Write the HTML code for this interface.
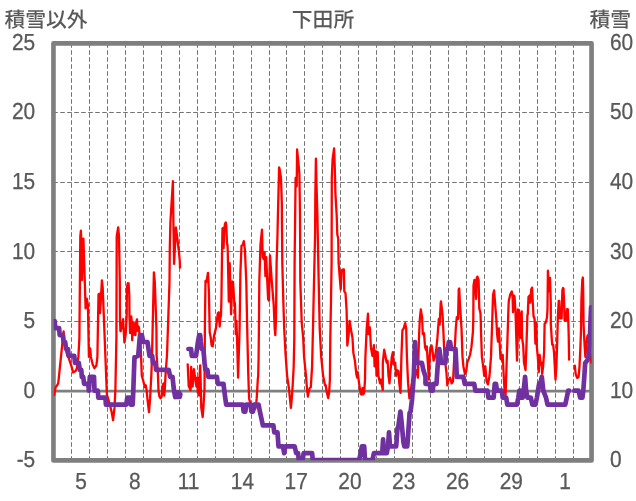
<!DOCTYPE html>
<html lang="ja"><head><meta charset="utf-8"><title>下田所</title>
<style>html,body{margin:0;padding:0;background:#fff}svg{display:block}</style></head>
<body>
<svg width="636" height="501" viewBox="0 0 636 501">
<rect width="636" height="501" fill="#fff"/>
<g stroke="#6c6c6c" stroke-width="0.95" stroke-dasharray="4.6 2.4" fill="none"><line x1="71.5" y1="43.2" x2="71.5" y2="458.0"/><line x1="89.5" y1="43.2" x2="89.5" y2="458.0"/><line x1="107.5" y1="43.2" x2="107.5" y2="458.0"/><line x1="125.5" y1="43.2" x2="125.5" y2="458.0"/><line x1="143.5" y1="43.2" x2="143.5" y2="458.0"/><line x1="161.5" y1="43.2" x2="161.5" y2="458.0"/><line x1="179.5" y1="43.2" x2="179.5" y2="458.0"/><line x1="197.5" y1="43.2" x2="197.5" y2="458.0"/><line x1="215.5" y1="43.2" x2="215.5" y2="458.0"/><line x1="233.5" y1="43.2" x2="233.5" y2="458.0"/><line x1="251.5" y1="43.2" x2="251.5" y2="458.0"/><line x1="269.5" y1="43.2" x2="269.5" y2="458.0"/><line x1="286.5" y1="43.2" x2="286.5" y2="458.0"/><line x1="304.5" y1="43.2" x2="304.5" y2="458.0"/><line x1="322.5" y1="43.2" x2="322.5" y2="458.0"/><line x1="340.5" y1="43.2" x2="340.5" y2="458.0"/><line x1="358.5" y1="43.2" x2="358.5" y2="458.0"/><line x1="376.5" y1="43.2" x2="376.5" y2="458.0"/><line x1="394.5" y1="43.2" x2="394.5" y2="458.0"/><line x1="412.5" y1="43.2" x2="412.5" y2="458.0"/><line x1="430.5" y1="43.2" x2="430.5" y2="458.0"/><line x1="448.5" y1="43.2" x2="448.5" y2="458.0"/><line x1="466.5" y1="43.2" x2="466.5" y2="458.0"/><line x1="484.5" y1="43.2" x2="484.5" y2="458.0"/><line x1="501.5" y1="43.2" x2="501.5" y2="458.0"/><line x1="519.5" y1="43.2" x2="519.5" y2="458.0"/><line x1="537.5" y1="43.2" x2="537.5" y2="458.0"/><line x1="555.5" y1="43.2" x2="555.5" y2="458.0"/><line x1="573.5" y1="43.2" x2="573.5" y2="458.0"/><line x1="53.2" y1="112.5" x2="589.2" y2="112.5"/><line x1="53.2" y1="182.5" x2="589.2" y2="182.5"/><line x1="53.2" y1="251.5" x2="589.2" y2="251.5"/><line x1="53.2" y1="321.5" x2="589.2" y2="321.5"/></g>
<line x1="53.5" y1="391.2" x2="591.5" y2="391.2" stroke="#7f7f7f" stroke-width="2.8"/>
<rect x="53.45" y="43.4" width="538.1" height="417" fill="none" stroke="#7f7f7f" stroke-width="4.65" stroke-linejoin="round"/>
<clipPath id="c"><rect x="53.7" y="43.2" width="537.9" height="417.0"/></clipPath><g clip-path="url(#c)">
<polyline points="54.2,395.0 55.7,387.1 57.2,385.2 58.3,382.9 63.6,331.3 64.8,345.5 67.1,355.0 69.0,358.8 71.2,365.4 73.1,372.4 75.6,371.1 76.9,368.2 78.4,356.9 79.4,337.9 80.3,236.4 80.9,230.7 81.5,244.0 82.0,280.0 82.8,240.2 83.4,238.6 84.5,272.4 85.6,308.4 86.8,298.6 87.9,304.6 88.9,356.9 90.2,348.3 90.9,356.9 92.7,364.5 94.5,368.2 96.4,365.4 97.4,356.9 98.5,294.2 99.7,293.6 100.0,313.2 100.8,300.8 101.9,280.4 102.7,287.6 106.9,394.6 109.7,404.1 111.6,411.7 113.1,420.2 114.5,407.9 115.4,389.0 116.4,337.9 116.7,236.4 118.2,227.3 119.0,236.4 119.8,281.9 119.9,305.4 120.0,318.2 120.4,331.0 120.7,331.3 123.1,319.2 124.4,342.5 125.7,334.2 126.7,315.0 126.9,287.7 127.8,283.2 128.6,283.4 129.3,295.3 129.5,317.5 130.1,333.2 131.3,316.5 131.9,323.3 132.2,340.3 132.8,322.4 133.7,334.6 134.6,323.3 135.4,335.1 136.2,322.4 137.0,319.3 137.6,330.8 138.2,326.1 139.0,327.5 139.5,334.6 140.3,336.5 141.8,375.7 142.9,379.5 144.8,387.1 145.7,385.2 146.7,390.9 147.6,400.3 149.0,412.1 150.1,398.4 151.4,373.8 152.0,356.9 153.9,272.4 154.8,281.9 156.4,328.0 156.6,352.0 156.6,355.0 157.9,373.9 158.5,390.8 159.4,396.5 160.6,398.4 161.7,396.5 162.4,386.1 163.2,384.1 163.9,383.3 164.2,395.6 164.7,391.3 165.6,373.9 167.0,355.0 169.5,282.0 169.8,248.0 170.4,222.0 172.9,181.2 173.4,222.0 173.8,245.0 174.1,263.9 175.9,227.5 177.4,239.0 178.8,251.0 179.7,260.0 180.0,267.7" fill="none" stroke="#ff0000" stroke-width="2.3" stroke-linejoin="round" stroke-linecap="round"/>
<polyline points="187.7,364.4 188.7,386.1 190.6,390.4 191.2,366.8 192.0,386.1 192.6,386.6 193.9,369.2 195.1,377.6 196.4,386.6 197.2,377.6 197.8,392.7 198.6,377.6 199.2,395.6 199.4,379.6 200.2,365.4 200.6,379.6 201.3,407.9 202.7,417.0 203.6,404.1 204.5,389.0 204.9,324.6 205.5,280.9 206.4,281.9 208.0,272.8 208.9,291.4 209.7,332.2 210.8,337.9 211.6,345.5 212.7,346.4 214.0,336.0 215.9,328.4 217.8,313.3 218.8,312.3 219.7,326.5 220.3,319.0 221.0,315.2 221.4,300.8 222.1,248.6 222.5,228.3 223.2,228.0 223.6,248.1 224.2,230.7 225.0,223.6 225.8,222.5 226.3,226.4 227.0,243.9 227.5,245.0 227.7,250.0 228.8,301.6 229.7,263.2 231.1,314.3 232.3,281.5 233.0,282.1 234.3,302.1 234.9,303.0 235.5,322.7 235.8,334.1 236.4,320.9 237.3,347.4 238.1,377.7 238.7,356.9 239.6,328.4 240.4,272.4 241.5,245.9 242.7,244.9 243.8,241.1 244.9,249.6 246.3,281.9 247.2,328.4 248.2,372.0 249.1,398.4 250.6,404.5 252.5,408.9 253.8,410.8 255.7,407.9 256.7,398.4 257.8,379.5 258.2,375.8 258.6,356.9 259.0,319.0 259.3,281.9 260.5,244.0 262.0,229.7 262.7,257.2 263.9,259.1 264.6,252.5 265.4,276.2 266.2,257.2 267.3,281.9 268.1,298.9 269.0,300.8 270.0,255.3 271.8,281.9 273.7,304.6 274.7,328.4 275.3,335.1 276.0,319.0 276.6,262.9 277.5,234.5 277.9,215.8 279.1,167.5 279.5,168.4 281.0,177.9 281.8,202.6 282.3,262.9 283.3,300.8 284.2,328.4 285.5,353.1 287.1,375.8 289.0,389.0 289.9,398.4 290.9,407.9 291.8,398.4 292.7,385.2 293.7,366.4 294.3,337.9 294.6,262.9 295.6,177.9 296.5,178.9 296.7,186.4 297.1,149.5 298.4,162.7 299.4,174.1 300.0,215.8 300.3,281.9 301.3,310.3 301.7,322.7 303.2,337.9 304.1,356.9 306.0,375.8 307.0,389.0 307.9,396.5 308.9,390.9 309.8,388.0 310.8,387.1 312.1,366.4 313.2,319.0 314.0,281.9 315.1,234.5 315.3,196.9 315.9,158.6 316.6,187.4 317.4,215.8 318.3,262.9 318.9,291.4 319.7,328.4 321.2,356.9 323.1,375.8 325.0,385.3 325.7,385.2 326.9,392.7 328.2,398.1 329.1,392.7 329.9,379.5 330.3,337.9 331.0,300.8 331.6,262.9 331.8,177.9 332.6,159.0 334.1,148.5 334.8,168.4 335.4,193.1 336.7,215.8 337.3,234.5 338.2,238.3 338.6,262.9 339.8,278.1 340.7,289.5 341.7,270.5 343.0,269.5 343.9,269.5 344.3,291.4 345.5,293.2 346.6,310.3 346.8,319.0 347.3,345.5 348.7,334.1 349.6,320.9 351.1,330.3 352.5,337.9 353.4,353.1 354.9,360.7 356.3,373.9 357.2,377.7 357.6,372.0 359.1,383.4 360.6,393.7 361.6,394.6 362.5,388.0 363.3,394.3 364.2,392.7 365.0,379.5 365.4,356.9 366.7,328.4 368.0,313.6 368.6,334.1 369.9,327.5 370.9,347.4 372.4,355.9 373.9,345.1 374.6,366.4 375.8,351.2 376.5,375.8 377.7,352.1 378.4,375.8 380.0,383.3 380.9,379.5 381.8,385.2 382.8,389.9 382.8,362.6 384.2,349.7 385.3,355.0 386.6,362.6 387.6,360.7 388.5,375.8 389.5,383.4 390.4,372.0 391.8,356.9 392.9,352.1 393.6,364.5 395.2,362.6 396.1,375.8 397.1,370.1 398.4,371.1 399.3,383.4 400.5,392.9 401.4,356.9 402.4,330.3 403.7,328.4 405.2,323.1 406.2,328.4 406.9,356.9 408.1,383.4 409.4,398.4 412.2,381.4 414.1,371.9 416.0,370.0 417.9,377.6 418.9,339.8 419.8,319.0 420.8,309.5 422.1,317.1 422.8,334.1 424.0,333.2 425.1,347.4 426.1,350.2 426.8,346.4 427.8,362.6 428.9,379.6 429.7,356.9 430.4,347.4 431.6,345.5 432.5,351.2 433.6,360.7 435.0,356.9 436.3,349.3 437.4,337.9 438.8,319.0 439.7,324.6 440.7,302.8 441.0,301.4 442.6,315.2 443.5,334.1 444.5,356.9 446.4,372.0 447.3,385.3 448.6,379.6 450.1,377.7 451.7,383.4 453.0,381.5 454.3,356.9 455.8,328.4 456.8,317.1 458.1,319.0 458.7,289.5 459.2,288.5 460.0,304.6 461.5,328.4 462.5,356.9 463.4,366.4 464.9,373.9 466.3,371.1 467.2,362.6 468.7,358.8 470.0,355.0 471.4,347.4 472.9,332.2 473.3,319.0 473.5,285.7 474.4,280.0 475.4,287.6 476.1,298.9 476.7,278.1 477.4,276.6 478.6,280.0 479.3,308.4 480.5,313.2 480.9,324.6 480.9,328.4 481.9,356.9 483.4,368.2 484.2,375.8 485.3,366.4 486.6,381.5 488.0,384.4 489.5,375.8 491.0,356.9 492.3,319.0 493.0,295.1 494.1,290.4 494.9,300.8 496.3,319.0 497.1,334.1 498.0,341.7 499.0,328.4 499.9,347.4 500.5,358.8 501.8,359.7 502.7,355.0 503.7,375.8 504.6,391.0 505.6,395.0 506.2,375.8 507.5,337.9 508.4,309.5 508.8,300.8 510.3,294.2 511.8,291.4 512.6,297.0 513.0,312.2 513.7,295.5 514.5,296.1 515.3,308.4 515.5,311.4 516.0,328.4 517.0,360.7 517.7,337.9 517.9,309.4 518.9,310.3 519.4,328.4 520.2,337.9 521.3,313.3 521.7,311.3 522.1,337.9 523.2,345.5 524.0,362.6 525.5,370.1 526.4,347.4 527.4,315.2 527.8,314.1 528.5,297.0 529.7,295.5 530.2,302.7 531.2,289.5 532.1,287.6 532.7,300.8 533.5,316.0 534.6,319.0 535.4,343.6 536.3,322.7 536.9,347.4 537.8,356.9 538.8,372.0 539.7,355.0 540.7,364.5 541.6,362.6 542.2,373.9 543.1,366.4 544.1,352.2 544.6,324.0 546.0,322.0 547.0,317.3 547.5,309.2 547.7,290.3 547.9,270.7 548.5,280.9 549.2,291.4 549.6,285.6 550.0,277.8 550.4,290.3 550.8,304.5 550.8,323.9 551.7,338.0 552.2,344.6 553.1,344.6 554.0,352.2 555.5,379.6 556.4,366.4 557.3,337.9 557.9,316.0 558.7,301.0 559.3,301.0 560.0,318.4 561.6,318.4 562.4,290.0 563.0,288.0 563.5,288.5 564.2,305.0 564.6,320.6 566.0,320.6 567.0,309.2 567.8,309.2 568.3,322.0 568.7,335.0 569.1,359.7" fill="none" stroke="#ff0000" stroke-width="2.3" stroke-linejoin="round" stroke-linecap="round"/>
<polyline points="574.8,365.6 575.7,374.1 577.1,377.9 578.6,377.0 579.5,366.5 580.3,350.0 581.0,330.0 581.4,300.0 582.3,280.0 582.9,277.5 583.2,290.0 583.4,310.0 583.6,325.0 584.3,340.0 585.0,352.0 585.4,357.0 586.0,350.0 586.8,340.0 587.6,335.5 588.6,340.0 589.6,350.0 590.5,355.2 591.3,362.7" fill="none" stroke="#ff0000" stroke-width="2.3" stroke-linejoin="round" stroke-linecap="round"/>
<polyline points="54.7,321.2 55.3,328.1 59.1,328.1 59.7,335.1 62.9,335.1 63.6,342.0 65.2,342.0 66.1,349.0 68.0,349.0 68.6,355.9 74.3,355.9 75.0,362.9 78.8,362.9 79.8,369.8 81.3,369.8 81.8,376.8 83.2,376.8 84.1,383.8 88.3,383.8 88.9,390.7 89.4,383.8 89.8,376.8 94.0,376.8 94.5,390.7 97.8,390.7 98.3,397.6 105.4,397.6 105.9,404.6 126.2,404.6 127.3,397.6 130.0,397.6 130.6,404.6 132.3,404.6 132.7,404.6 133.3,390.7 133.9,373.3 134.5,357.3 138.2,355.9 139.1,345.5 140.0,335.1 141.9,335.1 143.3,342.0 147.5,342.0 148.5,349.0 149.5,355.9 152.2,355.9 153.0,362.9 155.2,362.9 156.2,369.8 168.7,369.8 170.2,376.8 172.5,376.8 173.6,387.2 174.4,392.8 175.2,397.0 175.9,392.4 176.7,397.0 177.4,392.4 178.2,397.0 179.0,392.4 179.7,397.0 180.3,394.2" fill="none" stroke="#7030a0" stroke-width="4.7" stroke-linejoin="round" stroke-linecap="round"/>
<polyline points="188.4,349.0 191.1,349.0 191.8,355.9 196.0,355.9 197.0,349.0 197.9,342.0 199.2,335.1 200.2,335.1 200.8,342.0 201.7,349.0 203.2,349.0 204.0,355.9 204.5,362.9 205.5,369.8 207.4,369.8 208.2,376.8 216.9,376.8 217.8,383.8 223.5,383.8 224.3,390.7 225.2,397.6 226.2,404.6 242.8,404.6 243.6,411.6 245.3,411.6 246.3,404.6 250.6,404.6 251.4,411.6 252.9,411.6 253.8,404.6 258.6,404.6 259.9,411.6 261.4,418.5 262.9,425.4 273.4,425.4 274.3,432.4 277.5,432.4 278.5,446.3 278.5,446.3 282.9,446.3 284.2,453.2 285.2,446.3 294.6,446.3 296.2,453.2 298.1,453.2 298.8,460.2 302.6,460.2 303.7,453.2 312.1,453.2 312.8,460.2 359.1,460.2 360.6,453.2 361.9,446.3 364.2,446.3 365.0,460.2 372.4,460.2 373.9,453.2 382.2,453.2 383.1,439.3 383.9,453.2 386.8,453.2 388.0,446.3 389.0,432.4 390.0,446.3 396.2,446.3 397.5,428.2 398.3,426.8 400.4,411.6 401.5,421.3 403.4,442.1 404.3,446.3 407.3,446.3 408.5,428.9 409.6,412.9 410.6,411.6 412.0,399.7 413.2,383.8 413.9,373.3 414.5,355.9 415.0,342.0 415.8,352.5 416.6,362.9 421.9,362.9 423.3,369.8 425.5,376.8 425.5,383.8 429.7,383.8 430.8,390.7 432.7,390.7 433.6,383.8 436.5,383.8 437.4,369.8 438.4,355.9 439.3,349.0 440.3,355.9 441.2,362.9 445.4,362.9 446.4,349.0 447.9,349.0 448.8,342.0 450.1,342.0 451.1,349.0 455.5,349.0 456.2,362.9 456.8,376.8 463.4,376.8 464.7,383.8 474.2,383.8 475.4,390.7 487.5,390.7 488.4,397.6 493.7,397.6 494.7,383.8 496.0,383.8 497.0,390.7 501.8,390.7 502.7,397.6 506.2,397.6 507.3,404.6 517.0,404.6 518.3,397.6 519.4,390.7 520.2,390.7 520.9,397.6 522.7,397.6 524.0,387.2 525.1,376.8 526.1,390.7 527.4,397.6 530.8,397.6 532.3,404.6 535.5,404.6 536.9,397.6 538.0,390.7 539.1,383.8 540.7,381.7 541.8,376.8 543.3,390.7 546.0,397.6 547.5,404.6 565.3,404.6 566.8,397.6 568.2,390.7 569.1,390.7" fill="none" stroke="#7030a0" stroke-width="4.7" stroke-linejoin="round" stroke-linecap="round"/>
<polyline points="574.4,390.7 578.6,390.7 580.1,397.6 582.4,397.6 583.3,390.7 584.3,376.8 585.2,362.9 587.5,360.1 588.7,355.9 589.8,342.0 590.5,321.2 591.1,307.3" fill="none" stroke="#7030a0" stroke-width="4.7" stroke-linejoin="round" stroke-linecap="round"/>
</g>
<g opacity="0.999" style="text-rendering:geometricPrecision" font-family="'Liberation Sans', 'Noto Sans CJK JP', sans-serif" fill="#595959"><text transform="translate(35.2,50.0) scale(0.900,1)" text-anchor="end" font-size="23.2" stroke="#595959" stroke-width="0.3">25</text><text transform="translate(35.2,119.0) scale(0.900,1)" text-anchor="end" font-size="23.2" stroke="#595959" stroke-width="0.3">20</text><text transform="translate(35.2,189.0) scale(0.900,1)" text-anchor="end" font-size="23.2" stroke="#595959" stroke-width="0.3">15</text><text transform="translate(35.2,259.0) scale(0.900,1)" text-anchor="end" font-size="23.2" stroke="#595959" stroke-width="0.3">10</text><text transform="translate(35.2,328.0) scale(0.900,1)" text-anchor="end" font-size="23.2" stroke="#595959" stroke-width="0.3">5</text><text transform="translate(35.2,398.0) scale(0.900,1)" text-anchor="end" font-size="23.2" stroke="#595959" stroke-width="0.3">0</text><text transform="translate(35.2,467.0) scale(0.900,1)" text-anchor="end" font-size="23.2" stroke="#595959" stroke-width="0.3">-5</text><text transform="translate(610.0,50.0) scale(0.900,1)" text-anchor="start" font-size="23.2" stroke="#595959" stroke-width="0.3">60</text><text transform="translate(610.0,119.0) scale(0.900,1)" text-anchor="start" font-size="23.2" stroke="#595959" stroke-width="0.3">50</text><text transform="translate(610.0,189.0) scale(0.900,1)" text-anchor="start" font-size="23.2" stroke="#595959" stroke-width="0.3">40</text><text transform="translate(610.0,259.0) scale(0.900,1)" text-anchor="start" font-size="23.2" stroke="#595959" stroke-width="0.3">30</text><text transform="translate(610.0,328.0) scale(0.900,1)" text-anchor="start" font-size="23.2" stroke="#595959" stroke-width="0.3">20</text><text transform="translate(610.0,398.0) scale(0.900,1)" text-anchor="start" font-size="23.2" stroke="#595959" stroke-width="0.3">10</text><text transform="translate(610.0,467.0) scale(0.900,1)" text-anchor="start" font-size="23.2" stroke="#595959" stroke-width="0.3">0</text><text transform="translate(81.0,488.6) scale(0.900,1)" text-anchor="middle" font-size="23.2" stroke="#595959" stroke-width="0.3">5</text><text transform="translate(134.8,488.6) scale(0.900,1)" text-anchor="middle" font-size="23.2" stroke="#595959" stroke-width="0.3">8</text><text transform="translate(188.6,488.6) scale(0.900,1)" text-anchor="middle" font-size="23.2" stroke="#595959" stroke-width="0.3">11</text><text transform="translate(242.4,488.6) scale(0.900,1)" text-anchor="middle" font-size="23.2" stroke="#595959" stroke-width="0.3">14</text><text transform="translate(296.2,488.6) scale(0.900,1)" text-anchor="middle" font-size="23.2" stroke="#595959" stroke-width="0.3">17</text><text transform="translate(349.9,488.6) scale(0.900,1)" text-anchor="middle" font-size="23.2" stroke="#595959" stroke-width="0.3">20</text><text transform="translate(403.7,488.6) scale(0.900,1)" text-anchor="middle" font-size="23.2" stroke="#595959" stroke-width="0.3">23</text><text transform="translate(457.5,488.6) scale(0.900,1)" text-anchor="middle" font-size="23.2" stroke="#595959" stroke-width="0.3">26</text><text transform="translate(511.3,488.6) scale(0.900,1)" text-anchor="middle" font-size="23.2" stroke="#595959" stroke-width="0.3">29</text><text transform="translate(565.1,488.6) scale(0.900,1)" text-anchor="middle" font-size="23.2" stroke="#595959" stroke-width="0.3">1</text><text x="4.4" y="26.8" font-size="20.8" font-weight="500">積雪以外</text><text x="323" y="26.8" text-anchor="middle" font-size="20.8" font-weight="500">下田所</text><text x="631" y="26.8" text-anchor="end" font-size="20.8" font-weight="500">積雪</text></g>
</svg>
</body></html>
